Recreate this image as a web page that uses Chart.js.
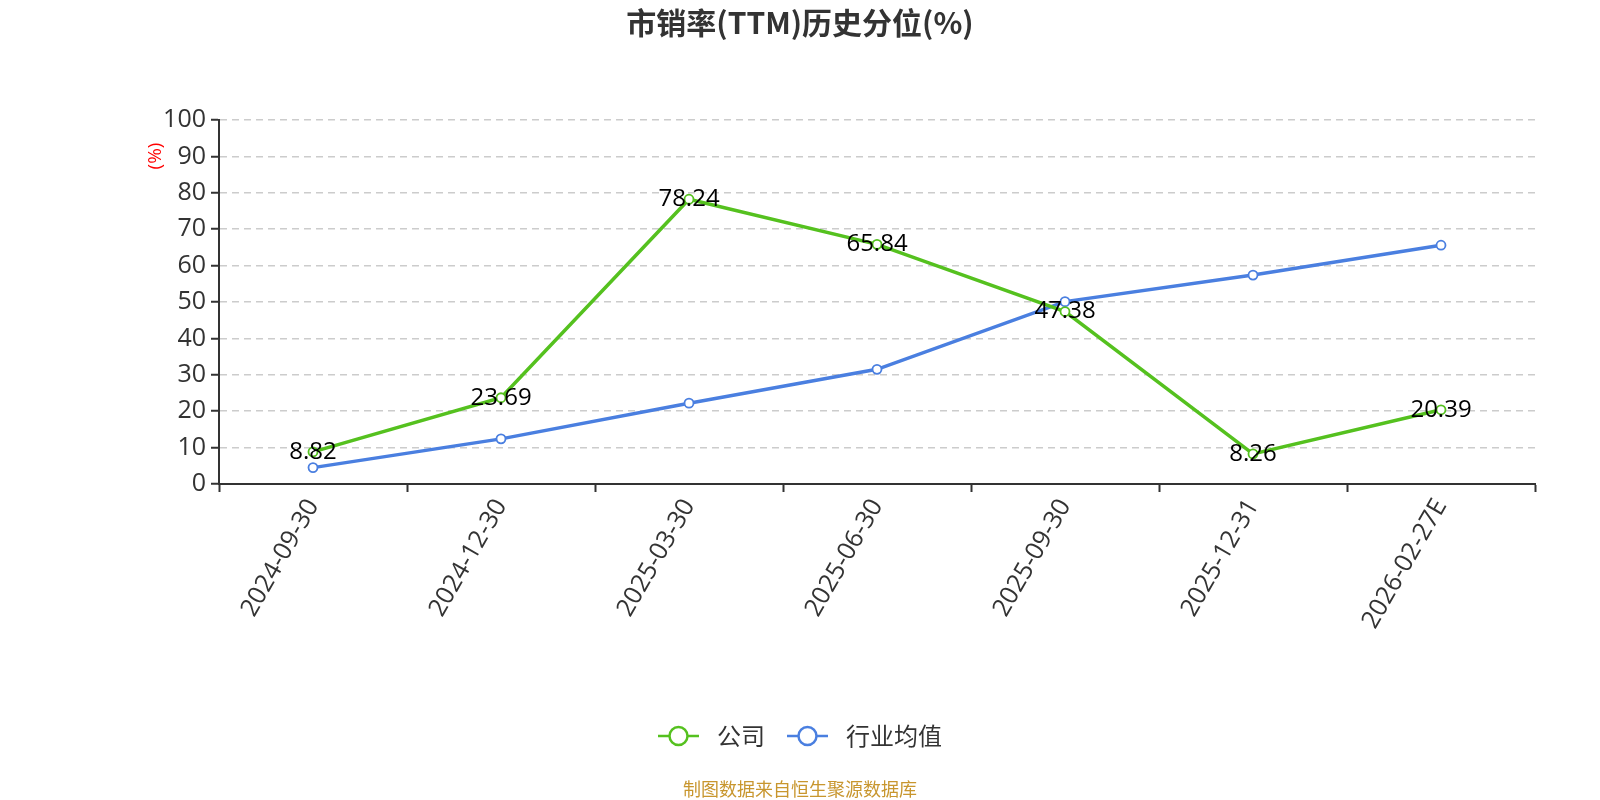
<!DOCTYPE html>
<html>
<head>
<meta charset="utf-8">
<script src="https://cdn.jsdelivr.net/npm/chart.js@4.4.1/dist/chart.umd.min.js"></script>
<style>
  html, body { margin: 0; padding: 0; background: #fff; }
  #c { display: block; }
</style>
</head>
<body>
<canvas id="c" width="1600" height="800"></canvas>
<script>
// chart data
var categories = ['2024-09-30', '2024-12-30', '2025-03-30', '2025-06-30', '2025-09-30', '2025-12-31', '2026-02-27E'];
var companyValues = [8.82, 23.69, 78.24, 65.84, 47.38, 8.26, 20.39];
var industryValues = [4.5, 12.4, 22.2, 31.5, 50.1, 57.4, 65.6];
var seriesNames = ['公司', '行业均值'];
var yTicks = [0, 10, 20, 30, 40, 50, 60, 70, 80, 90, 100];

var GREEN = '#55c11f';
var BLUE = '#4a7fe0';
var FONT = '"Open Sans", "Noto Sans CJK SC", sans-serif';
var CJK = '"Noto Sans CJK SC", "Open Sans", sans-serif';

// value labels on the company line
var valueLabels = {
    id: 'valueLabels',
    afterDatasetsDraw: function (chart) {
        var ctx = chart.ctx;
        var meta = chart.getDatasetMeta(0);
        ctx.save();
        ctx.font = '24px ' + FONT;
        ctx.fillStyle = '#000';
        ctx.textAlign = 'center';
        ctx.textBaseline = 'middle';
        meta.data.forEach(function (pt, i) {
            ctx.fillText(companyValues[i].toFixed(2), pt.x, pt.y);
        });
        ctx.restore();
    }
};

// title, y unit, legend and source note
var decorations = {
    id: 'decorations',
    afterDraw: function (chart) {
        var ctx = chart.ctx;
        ctx.save();

        ctx.fillStyle = '#333';
        ctx.font = 'bold 30px ' + CJK;
        ctx.textAlign = 'center';
        ctx.textBaseline = 'middle';
        ctx.fillText('市销率(TTM)历史分位(%)', 800, 23);

        // y axis unit
        ctx.save();
        ctx.translate(156, 156);
        ctx.rotate(-Math.PI / 2);
        ctx.fillStyle = '#f00';
        ctx.font = '19px ' + FONT;
        ctx.fillText('(%)', 0, 0);
        ctx.restore();

        // legend
        var items = [
            { x: 658, color: GREEN, text: seriesNames[0] },
            { x: 787, color: BLUE, text: seriesNames[1] }
        ];
        var ly = 736;
        items.forEach(function (it) {
            ctx.strokeStyle = it.color;
            ctx.lineWidth = 2.5;
            ctx.beginPath();
            ctx.moveTo(it.x, ly);
            ctx.lineTo(it.x + 41, ly);
            ctx.stroke();
            ctx.fillStyle = '#fff';
            ctx.beginPath();
            ctx.arc(it.x + 20.5, ly, 9, 0, Math.PI * 2);
            ctx.fill();
            ctx.stroke();
            ctx.fillStyle = '#333';
            ctx.font = '24px ' + CJK;
            ctx.textAlign = 'left';
            ctx.fillText(it.text, it.x + 59, ly);
        });

        ctx.fillStyle = '#c8962e';
        ctx.font = '18px ' + CJK;
        ctx.textAlign = 'center';
        ctx.fillText('制图数据来自恒生聚源数据库', 800, 789);

        ctx.restore();
    }
};

var ctx = document.getElementById('c').getContext('2d');
new Chart(ctx, {
    type: 'line',
    data: {
        labels: categories,
        datasets: [{
            label: seriesNames[0],
            data: companyValues,
            borderColor: GREEN,
            borderWidth: 3.5,
            pointRadius: 4.5,
            pointBorderWidth: 1.8,
            pointBackgroundColor: '#fff',
            pointBorderColor: GREEN,
            tension: 0
        }, {
            label: seriesNames[1],
            data: industryValues,
            borderColor: BLUE,
            borderWidth: 3.5,
            pointRadius: 4.5,
            pointBorderWidth: 1.8,
            pointBackgroundColor: '#fff',
            pointBorderColor: BLUE,
            tension: 0
        }]
    },
    options: {
        responsive: false,
        animation: false,
        layout: { padding: { left: 0, top: 120, right: 65, bottom: 166 } },
        plugins: {
            legend: { display: false },
            title: { display: false },
            tooltip: { enabled: false }
        },
        scales: {
            x: {
                type: 'category',
                offset: true,
                grid: {
                    offset: true,
                    drawOnChartArea: false,
                    tickLength: 8,
                    tickColor: '#333',
                    tickWidth: 2
                },
                border: { color: '#333', width: 2 },
                ticks: {
                    color: '#333',
                    font: { family: FONT, size: 25 },
                    minRotation: 60,
                    maxRotation: 60,
                    padding: 2,
                    autoSkip: false
                },
                afterFit: function (scale) { scale.height = 150; }
            },
            y: {
                min: 0,
                max: 100,
                afterBuildTicks: function (scale) {
                    scale.ticks = yTicks.map(function (v) { return { value: v }; });
                },
                grid: {
                    color: '#cccccc',
                    lineWidth: 1.5,
                    tickLength: 8,
                    tickColor: '#333',
                    tickWidth: 2
                },
                border: { color: '#333', width: 2, dash: [7, 5] },
                ticks: {
                    color: '#333',
                    font: { family: FONT, size: 25 },
                    padding: 5
                },
                afterFit: function (scale) { scale.width = 219; }
            }
        }
    },
    plugins: [valueLabels, decorations]
});
</script>
</body>
</html>
